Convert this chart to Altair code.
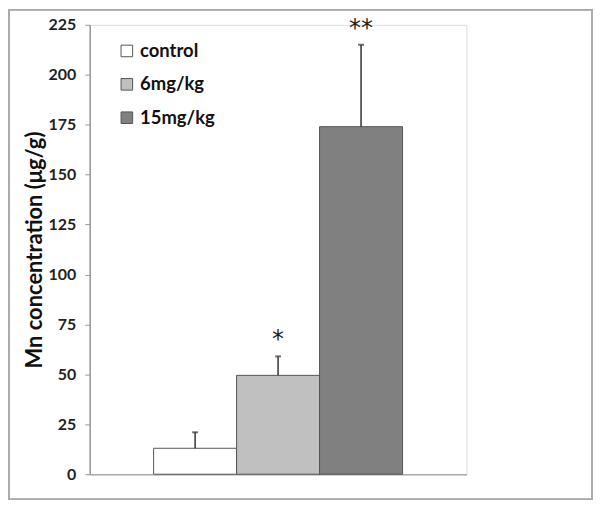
import altair as alt
import pandas as pd

groups = ["control", "6mg/kg", "15mg/kg"]
means = [13, 49.5, 174]
errors = [8, 9.5, 41]
marks = ["", "*", "**"]
colors = ["#ffffff", "#c0c0c0", "#808080"]
y_ticks = [0, 25, 50, 75, 100, 125, 150, 175, 200, 225]

df = pd.DataFrame({
    "group": groups,
    "mean": means,
    "upper": [m + e for m, e in zip(means, errors)],
    "mark": marks,
})

FONT = "Lato"
W, H = 378, 451
PL, PT, PR, PB = 82, 16, 127, 26

xenc = alt.X("group:N", sort=groups,
             scale=alt.Scale(paddingInner=0, paddingOuter=0.77),
             axis=alt.Axis(labels=False, ticks=False, title=None,
                           domainColor="#aaaaaa", domainWidth=1.5))
yscale = alt.Scale(domain=[0, 225], nice=False)

bars = alt.Chart(df).mark_bar(stroke="#555555", strokeWidth=1).encode(
    x=xenc,
    y=alt.Y("mean:Q", scale=yscale,
            axis=alt.Axis(values=y_ticks, title="Mn concentration (μg/g)",
                          titleFont=FONT, titleFontSize=22, titleFontWeight="bold",
                          titleColor="#111111", titlePadding=2,
                          labelFont=FONT, labelFontSize=16, labelFontWeight="bold",
                          labelColor="#222222", labelPadding=9,
                          tickSize=5, tickColor="#999999", domainColor="#999999",
                          domainWidth=1.5, grid=False)),
    color=alt.Color("group:N", sort=groups,
                    scale=alt.Scale(domain=groups, range=colors),
                    legend=alt.Legend(title=None, orient="none", legendX=28, legendY=17,
                                      symbolType="square", symbolSize=135,
                                      symbolStrokeColor="#555555", symbolStrokeWidth=1,
                                      labelFont=FONT, labelFontSize=18.5, labelFontWeight="bold",
                                      labelColor="#111111", labelOffset=4, rowPadding=14.5)),
)

err = alt.Chart(df).mark_rule(color="#333333", strokeWidth=1.5).encode(
    x=alt.X("group:N", sort=groups),
    y="mean:Q",
    y2="upper:Q",
)

cap = alt.Chart(df).mark_tick(color="#333333", thickness=2, size=6).encode(
    x=alt.X("group:N", sort=groups),
    y="upper:Q",
)

stars = alt.Chart(df).mark_text(font="DejaVu Sans", fontSize=24, baseline="bottom",
                                dy=-4, color="#222222").encode(
    x=alt.X("group:N", sort=groups),
    y="upper:Q",
    text="mark:N",
)

frame = alt.Chart(df).mark_rect(fill=None, stroke="#aaaaaa", strokeWidth=1.5).encode(
    x=alt.value(-PL + 1),
    x2=alt.value(W + PR - 1),
    y=alt.value(-PT + 1),
    y2=alt.value(H + PB - 1),
)

chart = alt.layer(frame, bars, err, cap, stars).properties(
    width=W, height=H,
    autosize=alt.AutoSizeParams(type="none"),
    padding={"left": PL, "top": PT, "right": PR, "bottom": PB},
).configure_view(stroke=None).configure(background="white")

chart.save("out.html", embed_options={"renderer": "svg", "actions": False})
